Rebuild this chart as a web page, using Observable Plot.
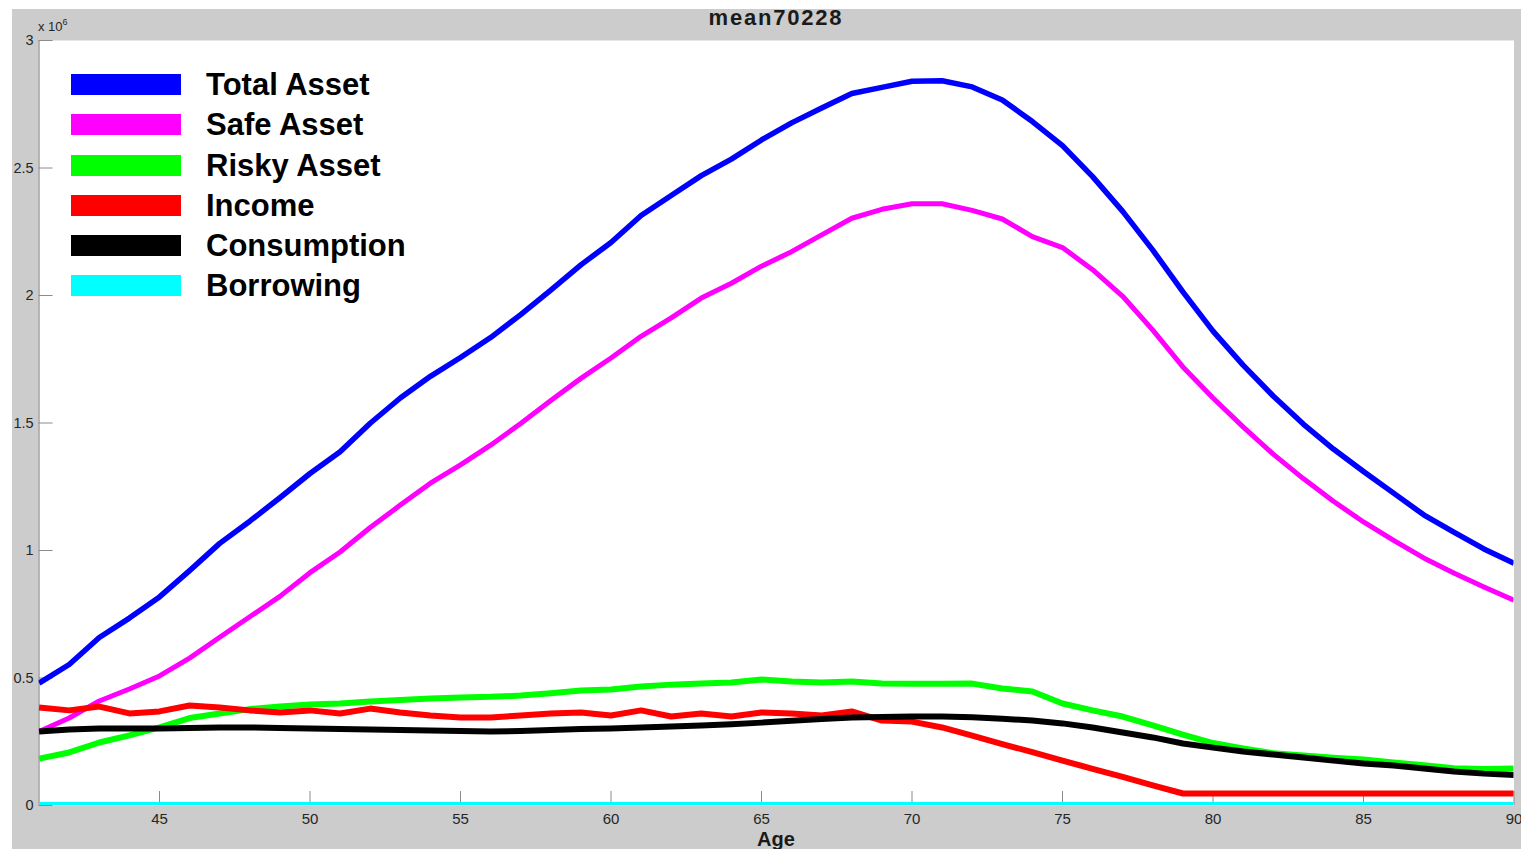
<!DOCTYPE html>
<html>
<head>
<meta charset="utf-8">
<script src="https://cdn.jsdelivr.net/npm/d3@7"></script>
<script src="https://cdn.jsdelivr.net/npm/@observablehq/plot@0.6"></script>
<style>
  html, body { margin: 0; padding: 0; background: #ffffff; overflow: hidden; }
  #fig { position: absolute; left: 12px; top: 9px; width: 1509px; height: 840px; background: #cccccc; }
  #chart { position: absolute; left: 0; top: 0; }
  #title { position: absolute; left: 576px; width: 400px; top: 4px; text-align: center;
           font: bold 22px "Liberation Sans", Arial, sans-serif; letter-spacing: 1.8px; color: #1a1a1a; line-height: 28px; }
  #exp { position: absolute; left: 38px; top: 18px; font: 13px "Liberation Sans", Arial, sans-serif; color: #262626; }
  #exp sup { font-size: 9px; position: relative; top: -1px; }
  #xlabel { position: absolute; left: 676px; width: 200px; top: 828px; text-align: center;
            font: bold 20px "Liberation Sans", Arial, sans-serif; color: #1a1a1a; line-height: 22px; }
  #legend { position: absolute; left: 71px; top: 74px; }
  .row { display: flex; align-items: flex-start; height: 40.3px; }
  .sw { width: 110px; height: 21px; }
  .lab { margin-left: 25px; font: bold 31px "Liberation Sans", Arial, sans-serif; line-height: 21px; color: #000; white-space: nowrap; }
</style>
</head>
<body>
<div id="fig"></div>
<div id="chart"></div>
<div id="title">mean70228</div>
<div id="exp">x 10<sup>6</sup></div>
<div id="xlabel">Age</div>
<div id="legend"></div>
<script>
// Age (years)
const ages = [41,42,43,44,45,46,47,48,49,50,51,52,53,54,55,56,57,58,59,60,
              61,62,63,64,65,66,67,68,69,70,71,72,73,74,75,76,77,78,79,80,
              81,82,83,84,85,86,87,88,89,90];

// Values in units of 10^6
const totalAsset = [0.48,0.553,0.659,0.735,0.818,0.921,1.028,1.115,1.207,1.302,
                    1.387,1.499,1.598,1.683,1.757,1.835,1.925,2.021,2.12,2.208,
                    2.314,2.392,2.47,2.535,2.61,2.677,2.735,2.792,2.816,2.84,
                    2.842,2.818,2.767,2.682,2.588,2.466,2.33,2.178,2.014,1.86,
                    1.727,1.606,1.496,1.398,1.31,1.225,1.14,1.072,1.006,0.95];

const safeAsset = [0.29,0.343,0.41,0.457,0.508,0.578,0.66,0.74,0.82,0.913,
                   0.994,1.09,1.178,1.264,1.336,1.413,1.498,1.588,1.675,1.755,
                   1.84,1.912,1.99,2.048,2.115,2.172,2.238,2.303,2.338,2.36,
                   2.36,2.334,2.3,2.231,2.188,2.101,1.997,1.864,1.72,1.598,
                   1.485,1.378,1.282,1.193,1.112,1.04,0.971,0.912,0.857,0.805];

const riskyAsset = [0.184,0.208,0.247,0.275,0.306,0.343,0.361,0.378,0.388,0.396,
                    0.4,0.408,0.414,0.42,0.424,0.426,0.431,0.44,0.451,0.455,
                    0.467,0.474,0.478,0.482,0.494,0.486,0.482,0.486,0.478,0.477,
                    0.477,0.478,0.459,0.447,0.4,0.373,0.349,0.314,0.278,0.245,
                    0.224,0.205,0.196,0.187,0.18,0.169,0.158,0.146,0.143,0.145];

const income = [0.384,0.373,0.388,0.361,0.369,0.392,0.384,0.373,0.365,0.373,
                0.361,0.38,0.365,0.353,0.345,0.345,0.353,0.361,0.365,0.353,
                0.373,0.349,0.361,0.349,0.365,0.361,0.353,0.369,0.333,0.329,
                0.306,0.274,0.241,0.209,0.176,0.144,0.112,0.079,0.047,0.047,
                0.047,0.047,0.047,0.047,0.047,0.047,0.047,0.047,0.047,0.047];

const consumption = [0.29,0.298,0.302,0.302,0.302,0.304,0.306,0.306,0.304,0.302,
                     0.3,0.298,0.296,0.294,0.292,0.29,0.292,0.296,0.3,0.302,
                     0.306,0.31,0.314,0.319,0.325,0.332,0.339,0.345,0.347,0.349,
                     0.349,0.346,0.34,0.333,0.322,0.306,0.286,0.267,0.243,0.227,
                     0.212,0.2,0.188,0.176,0.165,0.157,0.145,0.133,0.125,0.12];

const borrowing = [0,0,0,0,0,0,0,0,0,0,
                   0,0,0,0,0,0,0,0,0,0,
                   0,0,0,0,0,0,0,0,0,0,
                   0,0,0,0,0,0,0,0,0,0,
                   0,0,0,0,0,0,0,0,0,0];

const seriesNames = ["Total Asset","Safe Asset","Risky Asset","Income","Consumption","Borrowing"];
const seriesValues = [totalAsset, safeAsset, riskyAsset, income, consumption, borrowing];

const xTicks = [45,50,55,60,65,70,75,80,85,90];
const yTicks = [0,0.5,1,1.5,2,2.5,3];

// styles
const colors = ["#0000ff","#ff00ff","#00ff00","#ff0000","#000000","#00ffff"];
const widths = [5.5,5,6,6,6,7];

const W = 1521, H = 849;
const mL = 38.6, mR = 7.5, mT = 40, mB = 44;
const plotW = W - mL - mR, plotH = H - mT - mB;
const tickLen = 14;
const axisGray = "#8c8c8c";
const labelColor = "#262626";

const lineMarks = seriesValues.map((vals, i) =>
  Plot.line(ages.map((a, j) => ({age: a, value: vals[j], series: seriesNames[i]})), {
    x: "age", y: "value", stroke: colors[i], strokeWidth: widths[i],
    strokeLinejoin: "round", strokeLinecap: "butt", clip: true
  })
);

const chart = Plot.plot({
  width: W, height: H,
  marginLeft: mL, marginRight: mR, marginTop: mT, marginBottom: mB,
  style: {background: "none", fontFamily: "'Liberation Sans', Arial, sans-serif", overflow: "visible"},
  x: {domain: [ages[0], ages[ages.length - 1]]},
  y: {domain: [yTicks[0], yTicks[yTicks.length - 1]]},
  marks: [
    Plot.frame({fill: "#ffffff", stroke: null}),
    Plot.ruleX([ages[0]], {stroke: axisGray, strokeWidth: 1}),
    Plot.tickY(yTicks, {y: d => d, stroke: axisGray, insetRight: plotW - tickLen}),
    Plot.tickX(xTicks, {x: d => d, stroke: axisGray, insetTop: plotH - tickLen}),
    ...lineMarks,
    Plot.axisY({ticks: yTicks, tickSize: 0, tickPadding: 5.5, tickFormat: d => String(d),
                fontSize: 14.5, fill: labelColor, label: null}),
    Plot.axisX({ticks: xTicks, tickSize: 0, tickPadding: 8, tickFormat: d => String(d),
                fontSize: 15, fill: labelColor, label: null})
  ]
});
document.getElementById("chart").appendChild(chart);

const legend = document.getElementById("legend");
seriesNames.forEach((name, i) => {
  const row = document.createElement("div");
  row.className = "row";
  const sw = document.createElement("div");
  sw.className = "sw";
  sw.style.background = colors[i];
  const lab = document.createElement("div");
  lab.className = "lab";
  lab.textContent = name;
  row.appendChild(sw);
  row.appendChild(lab);
  legend.appendChild(row);
});
</script>
</body>
</html>
